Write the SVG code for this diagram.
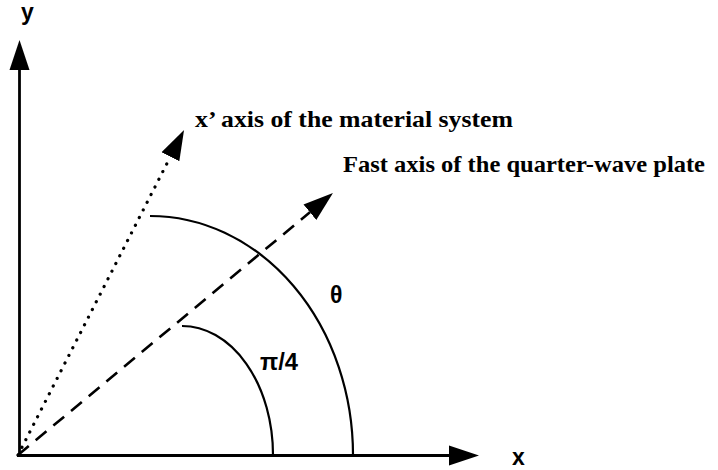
<svg xmlns="http://www.w3.org/2000/svg" width="718" height="470" viewBox="0 0 718 470">
<style>
.ax{stroke:#000;stroke-width:2.8;fill:none}
.arc{stroke:#000;stroke-width:2.2;fill:none}
.lbl{font-family:"Liberation Serif","Times New Roman",serif;font-weight:bold;font-size:23px;fill:#000}
.sym{font-family:"Liberation Sans",Arial,sans-serif;font-weight:bold;font-size:23px;fill:#000}
</style>
<defs>
<marker id="ah" markerUnits="userSpaceOnUse" markerWidth="32" markerHeight="24" viewBox="0 -12 32 24" refX="0" refY="0" orient="auto">
<path d="M0,-10 L30,0 L0,10 z" fill="#000"/>
</marker>
</defs>
<rect width="718" height="470" fill="#fff"/>
<g id="connectors">
<line class="ax" x1="17" y1="455.5" x2="449" y2="455.5" marker-end="url(#ah)"/>
<line class="ax" x1="19.5" y1="457" x2="19.5" y2="70" marker-end="url(#ah)"/>
<line x1="18" y1="455" x2="170.4" y2="156.7" stroke="#000" stroke-width="3.2" stroke-linecap="round" stroke-dasharray="0.1 8.5" marker-end="url(#ah)"/>
<line x1="18" y1="455" x2="309.9" y2="212.2" stroke="#000" stroke-width="2.6" stroke-dasharray="14 9" marker-end="url(#ah)"/>
<path class="arc" d="M150,216 A203,239 0 0 1 353,455"/>
<path class="arc" d="M182,326 A91,129 0 0 1 273,455"/>
</g>
<g id="label-y"><text class="sym" x="21" y="20" font-size="22">y</text></g>
<g id="label-x"><text class="sym" x="512" y="465">x</text></g>
<g id="label-xprime"><text class="lbl" x="195" y="127" textLength="318" lengthAdjust="spacingAndGlyphs">x’ axis of the material system</text></g>
<g id="label-fast"><text class="lbl" x="343" y="172" textLength="362" lengthAdjust="spacingAndGlyphs">Fast axis of the quarter-wave plate</text></g>
<g id="label-theta"><text class="sym" x="330" y="303" font-size="26">θ</text></g>
<g id="label-pi4"><text class="sym" x="260" y="370" textLength="38" lengthAdjust="spacingAndGlyphs">π/4</text></g>
</svg>
